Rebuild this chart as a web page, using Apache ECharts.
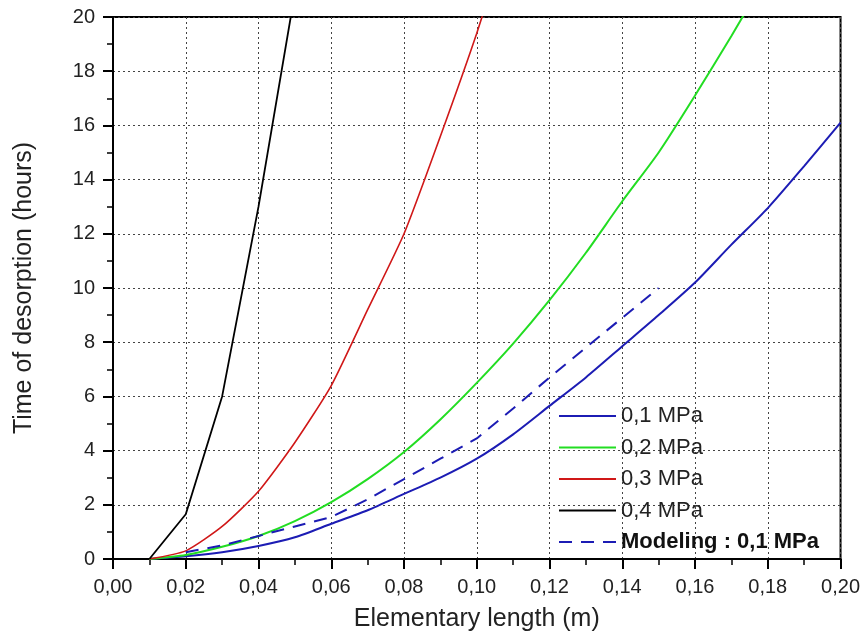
<!DOCTYPE html>
<html>
<head>
<meta charset="utf-8">
<script src="https://cdn.jsdelivr.net/npm/echarts@6/dist/echarts.min.js"></script>
<style>
html,body{margin:0;padding:0;background:#fff;}
#c{width:863px;height:641px;}
</style>
</head>
<body>
<div id="c"></div>
<script>
// ---- data ----
const xTicks = [0, 0.02, 0.04, 0.06, 0.08, 0.10, 0.12, 0.14, 0.16, 0.18, 0.20];
const yTicks = [0, 2, 4, 6, 8, 10, 12, 14, 16, 18, 20];

const x01 = [0.01,0.02,0.03,0.04,0.05,0.06,0.07,0.08,0.09,0.10,0.11,0.12,0.13,0.14,0.15,0.16,0.17,0.18,0.19,0.20];
const y01 = [0,0.1,0.25,0.48,0.8,1.3,1.8,2.4,3.0,3.7,4.6,5.65,6.7,7.85,9.0,10.2,11.6,12.95,14.5,16.1];

const x02 = [0.01,0.02,0.03,0.04,0.05,0.06,0.07,0.08,0.09,0.10,0.11,0.12,0.13,0.14,0.15,0.16,0.17,0.18];
const y02 = [0,0.15,0.45,0.85,1.4,2.1,2.95,3.95,5.15,6.5,7.95,9.55,11.3,13.2,15.0,17.1,19.3,21.6];

const x03 = [0.01,0.02,0.03,0.04,0.05,0.06,0.07,0.08,0.09,0.10,0.11];
const y03 = [0,0.3,1.2,2.5,4.3,6.4,9.2,12.0,15.6,19.4,23.6];

const x04 = [0.01,0.02,0.03,0.04,0.05];
const y04 = [0,1.65,6.0,13.0,20.9];

const xMod = [0.02,0.03,0.04,0.05,0.06,0.07,0.08,0.09,0.10,0.11,0.12,0.13,0.14,0.15];
const yMod = [0.25,0.5,0.85,1.2,1.55,2.2,2.95,3.7,4.45,5.55,6.7,7.8,8.9,10.0];

const names = ['0,1 MPa', '0,2 MPa', '0,3 MPa', '0,4 MPa', 'Modeling : 0,1 MPa'];

// ---- chart ----
function pairs(xs, ys){ return xs.map((x,i)=>[x, ys[i]]); }
const FONT = '"Liberation Sans", Arial, sans-serif';

const chart = echarts.init(document.getElementById('c'), null, {renderer:'canvas'});
const mkLine = (name, xs, ys, color, type, width, smooth) => ({
  name, type:'line', data: pairs(xs, ys), symbol:'none', showSymbol:false, smooth:smooth, clip:true,
  lineStyle:{color, width, type}, itemStyle:{color}, z: 3
});

chart.setOption({
  backgroundColor:'#fff',
  animation:false,
  textStyle:{fontFamily:FONT},
  grid:{left:113, right:22, top:17, bottom:82, show:true, borderColor:'#000', borderWidth:2, backgroundColor:'transparent'},
  xAxis:{
    type:'value', min:0, max:0.2, interval:0.02,
    name:'Elementary length (m)', nameLocation:'middle', nameGap:48,
    nameTextStyle:{fontSize:25, color:'#222', fontFamily:FONT},
    axisLine:{show:true, onZero:false, lineStyle:{color:'#000', width:2}},
    axisTick:{show:true, inside:false, length:10, lineStyle:{color:'#000', width:2}},
    minorTick:{show:true, splitNumber:2, length:6, lineStyle:{color:'#000', width:1.5}},
    axisLabel:{fontSize:20, color:'#222', margin:18, fontFamily:FONT,
      formatter: v => (Math.round(v*100)/100).toFixed(2).replace('.', ',')},
    splitLine:{show:true, lineStyle:{color:'#444', width:1, type:[2,3]}}
  },
  yAxis:{
    type:'value', min:0, max:20, interval:2,
    name:'Time of desorption (hours)', nameLocation:'middle', nameGap:76, nameRotate:90,
    nameTextStyle:{fontSize:25, color:'#222', fontFamily:FONT},
    axisLine:{show:true, onZero:false, lineStyle:{color:'#000', width:2}},
    axisTick:{show:true, inside:false, length:10, lineStyle:{color:'#000', width:2}},
    minorTick:{show:true, splitNumber:2, length:6, lineStyle:{color:'#000', width:1.5}},
    axisLabel:{fontSize:20, color:'#222', margin:18, fontFamily:FONT},
    splitLine:{show:true, lineStyle:{color:'#444', width:1, type:[2,3]}}
  },
  legend:{
    orient:'vertical', left:553, top:400,
    itemWidth:57, itemHeight:14, itemGap:9.5,
    backgroundColor:'transparent',
    itemStyle:{opacity:0},
    lineStyle:{inherit:true},
    textStyle:{fontSize:22, color:'#222', fontFamily:FONT, lineHeight:20},
    data:[
      {name:names[0]}, {name:names[1]}, {name:names[2]}, {name:names[3]},
      {name:names[4], textStyle:{fontWeight:'bold', fontSize:22, color:'#111'}}
    ]
  },
  series:[
    mkLine(names[0], x01, y01, '#1c1cb4', 'solid', 2, 0.25),
    mkLine(names[1], x02, y02, '#22dd22', 'solid', 2, 0.25),
    mkLine(names[2], x03, y03, '#d01818', 'solid', 1.6, 0.2),
    mkLine(names[3], x04, y04, '#000000', 'solid', 1.8, false),
    mkLine(names[4], xMod, yMod, '#1c1cb4', [13,9], 2, false)
  ]
});
</script>
</body>
</html>
